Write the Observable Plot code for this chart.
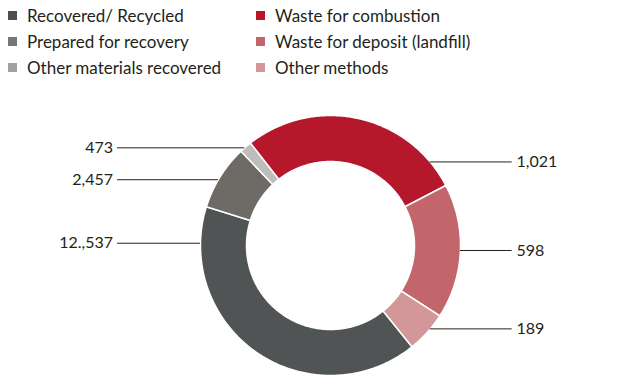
<!DOCTYPE html>
<html><head><meta charset="utf-8">
<script src="https://cdn.jsdelivr.net/npm/d3@7"></script>
<script src="https://cdn.jsdelivr.net/npm/@observablehq/plot@0.6"></script>
<style>
body{margin:0;background:#fff;font-family:Lato,sans-serif;}
#legend{position:relative;width:630px;height:88px;}
.item{position:absolute;display:flex;align-items:center;font-size:17px;color:#231f20;height:26px;white-space:nowrap;}
.sw{width:9px;height:9px;margin-right:10px;flex:none;}
</style></head><body>
<div id="legend"></div><div id="chart"></div>
<script>
// ---- data ----
const categories = ["Recovered/ Recycled","Prepared for recovery","Other materials recovered","Waste for combustion","Waste for deposit (landfill)","Other methods"];
const shares = [146.1, 29.2, 5.5, 100.5, 60.3, 18.4]; // slice sizes (degrees of the ring)
const valueLabels = ["12.,537","2,457","473","1,021","598","189"];
const sliceColors = ["#505454","#6e6a65","#bdbdbb","#b5182b","#c2666b","#d49799"];
const legendColors = ["#4d5050","#737878","#9ea2a2","#b5182b","#c2666b","#d49799"];

// ---- legend ----
const legend = document.getElementById("legend");
categories.forEach((c,i)=>{
  const col = i < 3 ? 0 : 1, row = i % 3;
  const el = document.createElement("div");
  el.className = "item";
  el.style.left = (col ? 256 : 8) + "px";
  el.style.top = (2 + row*26.3) + "px";
  el.innerHTML = `<span class="sw" style="background:${legendColors[i]}"></span><span>${c}</span>`;
  legend.appendChild(el);
});

// ---- donut geometry ----
const R = 130, r = 84;
const start = 141.2*Math.PI/180;
const arcs = d3.pie().sort(null).value(d=>d).startAngle(start).endAngle(start+2*Math.PI)(shares);
const pts = [];
arcs.forEach((a,i)=>{
  const n = Math.max(2, Math.ceil((a.endAngle-a.startAngle)/0.01));
  const ring = [];
  for (let k=0;k<=n;k++){ const t=a.startAngle+(a.endAngle-a.startAngle)*k/n; ring.push([R*Math.sin(t), R*Math.cos(t)]); }
  for (let k=n;k>=0;k--){ const t=a.startAngle+(a.endAngle-a.startAngle)*k/n; ring.push([r*Math.sin(t), r*Math.cos(t)]); }
  ring.push(ring[0]);
  ring.forEach(([x,y])=>pts.push({cat:categories[i], x, y}));
});

// leader lines: anchor angle on the ring for each label
const labelAngles = [-89, -59.6, -41.3, 50, 92.2, 129.9];
const leaders = valueLabels.map((lab,i)=>{
  const t = labelAngles[i]*Math.PI/180;
  const y = R*Math.cos(t);
  const left = Math.sin(t) < 0;
  const edge = Math.sqrt(R*R - y*y) * (left ? -1 : 1);
  return {label: lab, y, left, x1: left ? -213 : edge, x2: left ? edge : 181.7, tx: left ? -217.5 : 186};
});

const chart = Plot.plot({
  width: 630, height: 288,
  marginTop: 0, marginRight: 0, marginBottom: 0, marginLeft: 0,
  x: {domain: [-330, 300], axis: null},
  y: {domain: [-131, 157], axis: null},
  color: {domain: categories, range: sliceColors},
  style: {fontFamily: "Lato, sans-serif", background: "#fff"},
  marks: [
    Plot.line(pts, {x:"x", y:"y", z:"cat", fill:"cat", stroke:"#ffffff", strokeWidth:1.5, curve:"linear"}),
    Plot.ruleY(leaders, {y:"y", x1:"x1", x2:"x2", stroke:"#2b211c", strokeWidth:1}),
    Plot.text(leaders.filter(d=>d.left), {x:"tx", y:"y", text:"label", textAnchor:"end", fontSize:16, fill:"#231f20"}),
    Plot.text(leaders.filter(d=>!d.left), {x:"tx", y:"y", text:"label", textAnchor:"start", fontSize:16, fill:"#231f20"})
  ]
});
document.getElementById("chart").appendChild(chart);
</script>
</body></html>
